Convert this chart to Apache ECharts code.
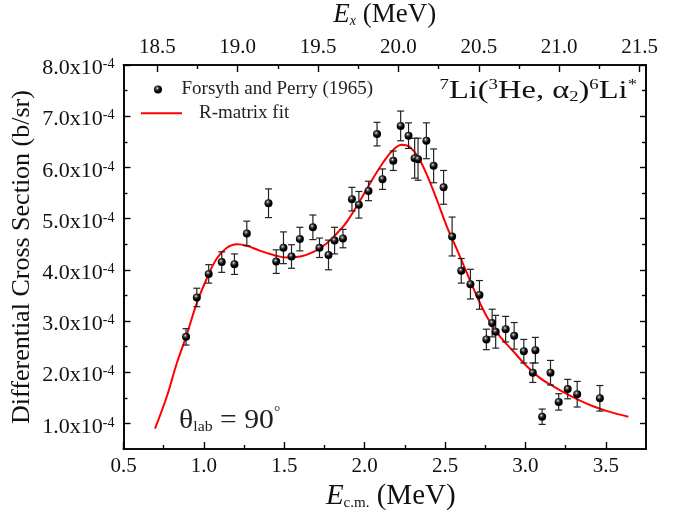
<!DOCTYPE html>
<html><head><meta charset="utf-8">
<script src="https://cdn.jsdelivr.net/npm/echarts@6/dist/echarts.min.js"></script>
<style>html,body{margin:0;padding:0;background:#fff}#c{width:687px;height:516px}</style>
</head><body><div id="c"></div>
<script>
// ---- data (cross sections in units of 1e-4 b/sr) ----
const expX = [0.889,0.956,1.030,1.111,1.190,1.267,1.402,1.450,1.495,1.545,1.597,1.678,1.719,1.775,1.813,1.865,1.921,1.964,2.024,2.077,2.111,2.178,2.224,2.273,2.311,2.332,2.384,2.429,2.491,2.544,2.601,2.658,2.714,2.757,2.793,2.815,2.877,2.930,2.990,3.046,3.062,3.104,3.156,3.207,3.263,3.322,3.463];
const expY = [2.69,3.46,3.92,4.15,4.11,4.71,5.30,4.16,4.43,4.26,4.60,4.83,4.43,4.29,4.57,4.61,5.38,5.27,5.54,6.65,5.77,6.13,6.81,6.62,6.18,6.16,6.52,6.03,5.61,4.65,3.98,3.72,3.51,2.64,2.96,2.79,2.84,2.71,2.41,1.99,2.43,1.13,1.99,1.42,1.67,1.57,1.49];
const expErr = [0.16,0.18,0.18,0.20,0.20,0.24,0.28,0.23,0.31,0.23,0.23,0.24,0.19,0.29,0.26,0.18,0.23,0.26,0.19,0.23,0.20,0.19,0.29,0.25,0.39,0.41,0.35,0.33,0.33,0.38,0.24,0.29,0.28,0.20,0.27,0.32,0.25,0.26,0.23,0.19,0.25,0.15,0.24,0.16,0.19,0.25,0.25];
const fitX = [0.696,0.769,0.831,0.889,0.956,1.018,1.080,1.143,1.205,1.267,1.350,1.433,1.516,1.599,1.682,1.765,1.848,1.890,1.973,2.045,2.118,2.180,2.232,2.284,2.336,2.388,2.450,2.512,2.575,2.610,2.690,2.761,2.844,2.927,3.010,3.093,3.176,3.260,3.343,3.425,3.509,3.640];
const fitY = [0.90,1.52,2.17,2.69,3.35,3.83,4.22,4.43,4.50,4.47,4.37,4.29,4.24,4.26,4.35,4.52,4.78,4.94,5.36,5.75,6.11,6.35,6.44,6.39,6.18,5.85,5.36,4.84,4.39,4.13,3.54,3.08,2.69,2.40,2.11,1.88,1.72,1.57,1.44,1.33,1.24,1.13];
const xTicks = [0.5,1.0,1.5,2.0,2.5,3.0,3.5];
const xMinorTicks = [0.75,1.25,1.75,2.25,2.75,3.25];
const exTicks = [18.5,19.0,19.5,20.0,20.5,21.0,21.5];
const exMinorTicks = [18.75,19.25,19.75,20.25,20.75,21.25];
const yTicks = [1,2,3,4,5,6,7,8];
const yMinorTicks = [1.5,2.5,3.5,4.5,5.5,6.5,7.5];
const EX_OFFSET = 17.79; // Ex = Ecm + Q
const X_MIN = 0.5, X_MAX = 3.75, Y_MIN = 0.5, Y_MAX = 8.0;

const FONT = '"Liberation Serif","Times New Roman",serif';
const TXT = '#111';
const chart = echarts.init(document.getElementById('c'), null, {renderer:'canvas'});

const line = {show:true, onZero:false, lineStyle:{color:'#000', width:1.6}};
function xAx(pos, min, max, ticks, len, labels, extra) {
  return Object.assign({
    type:'value', position:pos, min:min, max:max, gridIndex:0,
    axisLine: line, splitLine:{show:false},
    axisTick:{show:true, inside:true, length:len, customValues:ticks, lineStyle:{color:'#000', width:1.4}},
    axisLabel: labels ? {show:true, customValues:ticks, formatter:v=>v.toFixed(1), fontFamily:FONT, fontSize:21, color:TXT, margin:7} : {show:false}
  }, extra||{});
}
function yAx(pos, ticks, len, labels, extra) {
  return Object.assign({
    type:'value', position:pos, min:Y_MIN, max:Y_MAX, gridIndex:0,
    axisLine: line, splitLine:{show:false},
    axisTick:{show:true, inside:true, length:len, customValues:ticks, lineStyle:{color:'#000', width:1.4}},
    axisLabel: labels ? {show:true, customValues:ticks, margin:9, padding:[7,0,0,0],
      formatter:v=>'{a|'+v.toFixed(1)+'x10}{s|-4}',
      rich:{a:{fontFamily:FONT, fontSize:22, color:TXT, lineHeight:22, verticalAlign:'bottom'},
            s:{fontFamily:FONT, fontSize:14, color:TXT, lineHeight:14, verticalAlign:'top'}}} : {show:false}
  }, extra||{});
}

const option = {
  animation:false,
  backgroundColor:'#fff',
  grid:{left:123.5, right:41, top:65, bottom:67, outerBoundsMode:'none'},
  xAxis:[
    xAx('bottom', X_MIN, X_MAX, xTicks, 7, true, {
      name:'{i|E}{sub|c.m.}{n| (MeV)}', nameLocation:'middle', nameGap:31,
      nameTextStyle:{padding:[0,0,0,12], rich:{
        i:{fontFamily:FONT, fontSize:29, fontStyle:'italic', color:TXT, verticalAlign:'bottom', lineHeight:30},
        sub:{fontFamily:FONT, fontSize:15, color:TXT, verticalAlign:'bottom', lineHeight:24},
        n:{fontFamily:FONT, fontSize:29, color:TXT, verticalAlign:'bottom', lineHeight:30}}}
    }),
    xAx('bottom', X_MIN, X_MAX, xMinorTicks, 4, false),
    xAx('top', X_MIN+EX_OFFSET, X_MAX+EX_OFFSET, exTicks, 7, true, {
      name:'{i|E}{sub|x}{n| (MeV)}', nameLocation:'middle', nameGap:37,
      nameTextStyle:{rich:{
        i:{fontFamily:FONT, fontSize:27, fontStyle:'italic', color:TXT, verticalAlign:'bottom', lineHeight:28},
        sub:{fontFamily:FONT, fontSize:14, fontStyle:'italic', color:TXT, verticalAlign:'bottom', lineHeight:22},
        n:{fontFamily:FONT, fontSize:27, color:TXT, verticalAlign:'bottom', lineHeight:28}}}
    }),
    xAx('top', X_MIN+EX_OFFSET, X_MAX+EX_OFFSET, exMinorTicks, 4, false)
  ],
  yAxis:[
    yAx('left', yTicks, 7, true, {
      name:'Differential Cross Section (b/sr)', nameLocation:'middle', nameGap:88, nameRotate:90, nameMoveOverlap:false,
      nameTextStyle:{fontFamily:FONT, fontSize:26, color:TXT}
    }),
    yAx('left', yMinorTicks, 4, false),
    yAx('right', yTicks, 6, false),
    yAx('right', yMinorTicks, 4, false)
  ],
  legend:[
    {data:[{name:'Forsyth and Perry (1965)', icon:'circle'}], left:154, top:79.5, padding:0, itemWidth:37, itemHeight:8,
     textStyle:{fontFamily:FONT, fontSize:19, color:'#222', lineHeight:20}},
    {data:[{name:'R-matrix fit', icon:'rect'}], left:141, top:103.3, padding:0, itemWidth:41, itemHeight:2,
     textStyle:{fontFamily:FONT, fontSize:19, color:'#222', lineHeight:20, padding:[0,0,0,12]}}
  ],
  graphic:[
    {type:'text', x:637, y:91, scaleX:1.25, style:{
      align:'right', verticalAlign:'middle',
      text:'{sup|7}{m|Li(}{sup|3}{m|He, α}{sub|2}{m|)}{sup|6}{m|Li}{sup|*}',
      rich:{m:{fontFamily:FONT, fontSize:26, fill:TXT, verticalAlign:'bottom', lineHeight:27},
            sup:{fontFamily:FONT, fontSize:15, fill:TXT, verticalAlign:'top', lineHeight:15},
            sub:{fontFamily:FONT, fontSize:15, fill:TXT, verticalAlign:'bottom', lineHeight:21}}}},
    {type:'text', x:179, y:420, scaleX:1.06, style:{
      align:'left', verticalAlign:'middle',
      text:'{m|θ}{sub|lab}{m| = 90}{sup|°}',
      rich:{m:{fontFamily:FONT, fontSize:28, fill:'#222', verticalAlign:'bottom', lineHeight:30},
            sup:{fontFamily:FONT, fontSize:15, fill:'#222', verticalAlign:'top', lineHeight:15},
            sub:{fontFamily:FONT, fontSize:15, fill:'#222', verticalAlign:'bottom', lineHeight:24}}}}
  ],
  series:[
    {name:'R-matrix fit', type:'line', xAxisIndex:0, yAxisIndex:0, smooth:0.4, showSymbol:false, symbol:'none',
     data: fitX.map((x,i)=>[x, fitY[i]]), lineStyle:{color:'#ff0000', width:2}, itemStyle:{color:'#ff0000'}, z:3},
    {name:'errors', type:'custom', xAxisIndex:0, yAxisIndex:0, z:4,
     data: expX.map((x,i)=>[x, expY[i]-expErr[i], expY[i]+expErr[i]]),
     renderItem:function(params, api){
       const lo = api.coord([api.value(0), api.value(1)]);
       const hi = api.coord([api.value(0), api.value(2)]);
       const w = 3.5;
       const st = {stroke:'#222', lineWidth:1.2};
       return {type:'group', children:[
         {type:'line', shape:{x1:lo[0], y1:lo[1], x2:hi[0], y2:hi[1]}, style:st},
         {type:'line', shape:{x1:lo[0]-w, y1:lo[1], x2:lo[0]+w, y2:lo[1]}, style:st},
         {type:'line', shape:{x1:hi[0]-w, y1:hi[1], x2:hi[0]+w, y2:hi[1]}, style:st}
       ]};
     }},
    {name:'Forsyth and Perry (1965)', type:'scatter', xAxisIndex:0, yAxisIndex:0, z:5, symbolSize:8,
     data: expX.map((x,i)=>[x, expY[i]]),
     itemStyle:{opacity:1, color:{type:'radial', x:0.4, y:0.35, r:0.65, colorStops:[
       {offset:0, color:'#f0f0f0'},{offset:0.25, color:'#555'},{offset:0.6, color:'#000'},{offset:1, color:'#000'}]}}}
  ]
};
chart.setOption(option);
</script></body></html>
